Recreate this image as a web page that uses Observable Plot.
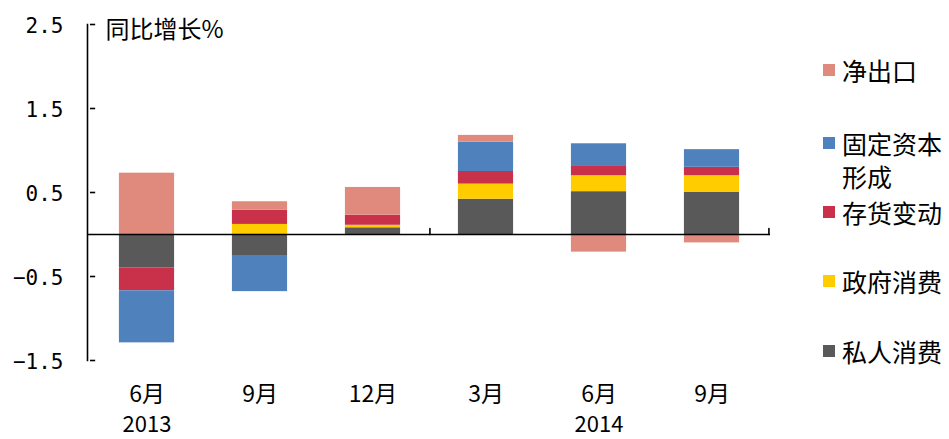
<!DOCTYPE html>
<html><head><meta charset="utf-8">
<script src="https://cdn.jsdelivr.net/npm/d3@7"></script>
<script src="https://cdn.jsdelivr.net/npm/@observablehq/plot@0.6"></script>
<style>
body{margin:0;background:#fff;}
#wrap{position:relative;width:949px;height:439px;overflow:hidden;}
#legend{position:absolute;left:0;top:0;font-family:"Noto Sans CJK SC",sans-serif;font-size:25px;color:#000;}
.sw{position:absolute;width:12px;height:12px;}
.lt{position:absolute;white-space:nowrap;line-height:32px;}
</style>
</head><body>
<div id="wrap"><div id="chart"></div><div id="legend"></div></div>
<script>
// ---- data ----
const keys = ["2013-06","2013-09","2013-12","2014-03","2014-06","2014-09"];
const months = ["6月","9月","12月","3月","6月","9月"];
const years = ["2013","","","","2014",""];
const yTicks = [-1.5,-0.5,0.5,1.5,2.5];
const seriesNames = ["私人消费","政府消费","存货变动","固定资本形成","净出口"];
const colors = ["#595959","#FFCC00","#C9304A","#4F81BD","#E08A7E"];
const privateCons = [-0.40,-0.25,0.08,0.42,0.51,0.50];
const govCons     = [0.00,0.12,0.03,0.18,0.19,0.20];
const inventory   = [-0.27,0.17,0.12,0.15,0.11,0.10];
const fixedCap    = [-0.62,-0.43,0.00,0.35,0.27,0.21];
const netExports  = [0.73,0.10,0.33,0.08,-0.21,-0.10];
const title = "同比增长%";
const legendItems = [
  {name:"净出口", lines:["净出口"]},
  {name:"固定资本形成", lines:["固定资本","形成"]},
  {name:"存货变动", lines:["存货变动"]},
  {name:"政府消费", lines:["政府消费"]},
  {name:"私人消费", lines:["私人消费"]}
];

const values = [privateCons, govCons, inventory, fixedCap, netExports];
const data = seriesNames.flatMap((s,i)=>keys.map((k,j)=>({key:k, series:s, value:values[i][j]})));

// ---- layout ----
const W=949, H=439, mL=87, mR=179, mT=24, mB=79;
const band = (W-mL-mR)/keys.length;
const barW = 56;
const inset = (band-barW)/2;
const tickLen = 6;
const lineShape = {draw(ctx, l){ ctx.moveTo(0,0); ctx.lineTo(0,-l); }};

const chart = Plot.plot({
  width:W, height:H, marginLeft:mL, marginRight:mR, marginTop:mT, marginBottom:mB,
  style:{fontFamily:"'Noto Sans CJK SC',sans-serif", background:"white", color:"black", overflow:"visible"},
  x:{domain:keys, padding:0, axis:null},
  y:{domain:[-1.5,2.5], axis:null},
  color:{domain:seriesNames, range:colors},
  marks:[
    Plot.barY(data,{x:"key", y:"value", fill:"series", insetLeft:inset, insetRight:inset}),
    Plot.ruleY([0],{stroke:"black", strokeWidth:1.6}),
    Plot.frame({anchor:"left", stroke:"black", strokeWidth:1.6}),
    Plot.axisY({ticks:yTicks, tickSize:0, tickPadding:24, tickFormat:d=>d.toFixed(1).replace("-","−"), fontSize:21, fontFamily:"'DejaVu Sans Mono',monospace", label:null, dy:2}),
    Plot.tickY(yTicks,{y:d=>d, x:()=>keys[0], insetRight:band-tickLen, stroke:"black", strokeWidth:1.6}),
    Plot.vector([keys[2], keys[5]],{x:d=>d, y:()=>0, dx:band/2, rotate:0, length:tickLen, anchor:"start", shape:lineShape, stroke:"black", strokeWidth:1.6}),
    Plot.text(keys,{x:d=>d, text:(d,i)=>months[i], frameAnchor:"bottom", dy:41, fontSize:23}),
    Plot.text(keys,{x:d=>d, text:(d,i)=>years[i], frameAnchor:"bottom", dy:71, fontSize:22}),
    Plot.text([title],{frameAnchor:"top-left", dx:18, dy:6, lineAnchor:"middle", textAnchor:"start", fontSize:24})
  ]
});
document.getElementById("chart").appendChild(chart);

// ---- legend ----
const legend = document.getElementById("legend");
const centers = [70, 143, 212, 281, 351];
legendItems.forEach((it,i)=>{
  const c = colors[seriesNames.indexOf(it.name)];
  const sw = document.createElement("div");
  sw.className="sw"; sw.style.background=c; sw.style.left="823px"; sw.style.top=(centers[i]-6)+"px";
  legend.appendChild(sw);
  it.lines.forEach((ln,j)=>{
    const t = document.createElement("div");
    t.className="lt"; t.textContent=ln; t.style.left="842px"; t.style.top=(centers[i]-16+j*33)+"px";
    legend.appendChild(t);
  });
});
</script>
</body></html>
